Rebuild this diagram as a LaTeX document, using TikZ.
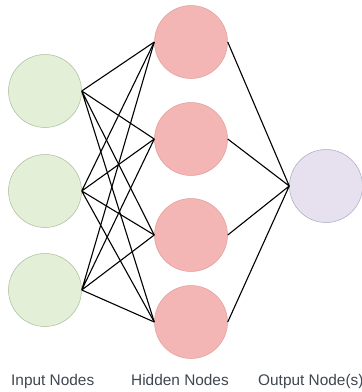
\documentclass[tikz,border=0pt]{standalone}
\usepackage{fontspec}
\setmainfont{Liberation Sans}
\usepackage{tikz}
\usepackage{xcolor}
\definecolor{InputGreen}{HTML}{E3EFD6}
\definecolor{InputEdge}{HTML}{A9BC9A}
\definecolor{HiddenPink}{HTML}{F4B6B4}
\definecolor{HiddenEdge}{HTML}{E29C9A}
\definecolor{OutputLilac}{HTML}{E7E0EE}
\definecolor{OutputEdge}{HTML}{A6A9C2}
\definecolor{LabelGray}{HTML}{3E4650}

\begin{document}
\begin{tikzpicture}[
      x=1pt,y=-1pt,
      inneuron/.style={circle,draw=InputEdge,fill=InputGreen,line width=0.5pt,minimum size=73pt,inner sep=0pt},
      hidneuron/.style={circle,draw=HiddenEdge,fill=HiddenPink,line width=0.5pt,minimum size=73pt,inner sep=0pt},
      outneuron/.style={circle,draw=OutputEdge,fill=OutputLilac,line width=0.5pt,minimum size=73pt,inner sep=0pt},
      link/.style={line width=1.1pt,draw=black},
      layerlabel/.style={anchor=base west,inner sep=0pt,font=\fontsize{15.4}{18}\selectfont,text=LabelGray}
    ]
      \useasboundingbox (0,0) rectangle (362,392);
      % input layer
      \node[inneuron] (in1) at (45,91) {};
      \node[inneuron] (in2) at (45,191) {};
      \node[inneuron] (in3) at (45,290) {};
      % hidden layer
      \node[hidneuron] (hid1) at (191,42) {};
      \node[hidneuron] (hid2) at (191,139) {};
      \node[hidneuron] (hid3) at (191,235) {};
      \node[hidneuron] (hid4) at (191,322) {};
      % output layer
      \node[outneuron] (out) at (326,186) {};
      % weights
      \draw[link] (in1.east) -- (hid1.west) (in1.east) -- (hid2.west) (in1.east) -- (hid3.west) (in1.east) -- (hid4.west);
      \draw[link] (in2.east) -- (hid1.west) (in2.east) -- (hid2.west) (in2.east) -- (hid3.west) (in2.east) -- (hid4.west);
      \draw[link] (in3.east) -- (hid1.west) (in3.east) -- (hid2.west) (in3.east) -- (hid3.west) (in3.east) -- (hid4.west);
      \draw[link] (hid1.east) -- (out.west) (hid2.east) -- (out.west) (hid3.east) -- (out.west) (hid4.east) -- (out.west);
      % labels
      \node[layerlabel] (inlabel) at (11,385) {Input Nodes};
      \node[layerlabel] (hidlabel) at (131,385) {Hidden Nodes};
      \node[layerlabel] (outlabel) at (258,385) {Output Node(s)};
    \end{tikzpicture}
\end{document}
